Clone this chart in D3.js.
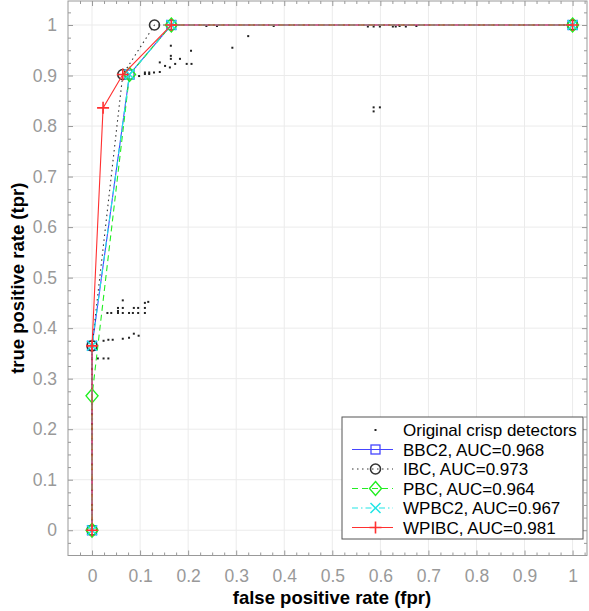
<!DOCTYPE html>
<html>
<head>
<meta charset="utf-8">
<script src="https://cdn.jsdelivr.net/npm/d3@7"></script>
<style>
  body { margin: 0; background: #fff; }
  svg { font-family: "Liberation Sans", Arial, sans-serif; }
</style>
</head>
<body>
<svg id="chart" width="589" height="611"></svg>
<script>
// ROC points per method
var bbc2Fpr  = [0, 0, 0.078, 0.165, 1];
var bbc2Tpr  = [0, 0.365, 0.902, 1, 1];
var ibcFpr   = [0, 0, 0.064, 0.13, 1];
var ibcTpr   = [0, 0.365, 0.902, 1, 1];
var pbcFpr   = [0, 0, 0.078, 0.165, 1];
var pbcTpr   = [0, 0.266, 0.902, 1, 1];
var wpbc2Fpr = [0, 0, 0.078, 0.165, 1];
var wpbc2Tpr = [0, 0.365, 0.902, 1, 1];
var wpibcFpr = [0, 0, 0.023, 0.064, 0.165, 1];
var wpibcTpr = [0, 0.365, 0.836, 0.902, 1, 1];

// original crisp detectors (scatter)
var crispFpr = [0,0,0,0,0,0,0,0,0,0,0,0,0,0,0,0,0,0,0,0,
  0.012,0.024,0.034, 0.024,0.034,0.043,0.064,0.077,0.087,0.097,
  0.032,0.040,0.054,0.054,0.054,0.064,0.064,0.064,0.077,0.085,0.087,0.096,0.096,0.110,0.110,0.110,0.117,
  0.098,0.110,0.119,0.129,0.141,0.152,0.162,0.173,0.183,0.197,0.207,0.141,0.164,0.164,0.164,0.206,0.119,0.110,
  0.238,0.260,0.292,0.325,0.378,0.574,0.586,0.599,0.626,0.632,0.640,0.653,0.675,0.586,0.599,0.586];
var crispTpr = [0.02,0.04,0.05,0.08,0.10,0.13,0.15,0.17,0.18,0.19,0.20,0.21,0.22,0.23,0.25,0.28,0.30,0.32,0.34,0.355,
  0.340,0.340,0.340, 0.375,0.377,0.377,0.379,0.381,0.389,0.385,
  0.430,0.430,0.440,0.434,0.430,0.455,0.440,0.430,0.430,0.430,0.440,0.440,0.430,0.450,0.440,0.430,0.452,
  0.899,0.903,0.903,0.906,0.907,0.919,0.916,0.923,0.933,0.923,0.923,0.926,0.959,0.939,0.933,0.949,0.906,0.906,
  0.998,0.998,0.955,0.978,0.998,0.997,0.997,0.997,0.997,0.997,0.998,0.997,0.998,0.837,0.837,0.829];

var xTicks = [0,0.1,0.2,0.3,0.4,0.5,0.6,0.7,0.8,0.9,1];
var yTicks = [0,0.1,0.2,0.3,0.4,0.5,0.6,0.7,0.8,0.9,1];
var legendLabels = ["Original crisp detectors", "BBC2, AUC=0.968", "IBC, AUC=0.973",
  "PBC, AUC=0.964", "WPBC2, AUC=0.967", "WPIBC, AUC=0.981"];

var svg = d3.select("#chart");
var MARGINS = {left: 68, right: 2, top: 1, bottom: 55.5};
var WIDTH = 589, HEIGHT = 611;

var xScale = d3.scaleLinear().domain([-0.05, 1.03]).range([MARGINS.left, WIDTH - MARGINS.right]);
var yScale = d3.scaleLinear().domain([-0.05, 1.0475]).range([HEIGHT - MARGINS.bottom, MARGINS.top]);

var x0 = xScale.range()[0], x1 = xScale.range()[1];
var y0 = yScale.range()[0], y1 = yScale.range()[1];

// grid
var grid = svg.append("g");
xTicks.forEach(function(t){
  grid.append("line").attr("x1", xScale(t)).attr("x2", xScale(t)).attr("y1", y0).attr("y2", y1)
    .attr("stroke", "#ebebeb").attr("stroke-width", 1);
});
yTicks.forEach(function(t){
  grid.append("line").attr("y1", yScale(t)).attr("y2", yScale(t)).attr("x1", x0).attr("x2", x1)
    .attr("stroke", "#ebebeb").attr("stroke-width", 1);
});

// axes with inward ticks on all sides
var minorX = d3.range(-0.025, 1.03, 0.025).filter(function(v){ return Math.abs(Math.round(v*10) - v*10) > 0.01; });
var minorY = d3.range(-0.025, 1.048, 0.025).filter(function(v){ return Math.abs(Math.round(v*10) - v*10) > 0.01; });

function styleAxis(g){
  g.select(".domain").remove();
  g.selectAll(".tick line").attr("stroke", "#999");
}
svg.append("g").attr("transform", "translate(0," + y0 + ")")
  .call(d3.axisBottom(xScale).tickValues(xTicks).tickSizeInner(-5).tickSizeOuter(0).tickPadding(14).tickFormat(d3.format("")))
  .call(styleAxis)
  .selectAll("text").attr("fill", "#999").style("font-size", "17.5px");
svg.append("g").attr("transform", "translate(0," + y0 + ")")
  .call(d3.axisBottom(xScale).tickValues(minorX).tickSize(-3).tickFormat(""))
  .call(styleAxis);
svg.append("g").attr("transform", "translate(0," + y1 + ")")
  .call(d3.axisTop(xScale).tickValues(xTicks).tickSize(-5).tickFormat(""))
  .call(styleAxis);
svg.append("g").attr("transform", "translate(0," + y1 + ")")
  .call(d3.axisTop(xScale).tickValues(minorX).tickSize(-3).tickFormat(""))
  .call(styleAxis);
svg.append("g").attr("transform", "translate(" + x0 + ",0)")
  .call(d3.axisLeft(yScale).tickValues(yTicks).tickSizeInner(-5).tickSizeOuter(0).tickPadding(11).tickFormat(d3.format("")))
  .call(styleAxis)
  .selectAll("text").attr("fill", "#999").style("font-size", "17.5px");
svg.append("g").attr("transform", "translate(" + x0 + ",0)")
  .call(d3.axisLeft(yScale).tickValues(minorY).tickSize(-3).tickFormat(""))
  .call(styleAxis);
svg.append("g").attr("transform", "translate(" + x1 + ",0)")
  .call(d3.axisRight(yScale).tickValues(yTicks).tickSize(-5).tickFormat(""))
  .call(styleAxis);
svg.append("g").attr("transform", "translate(" + x1 + ",0)")
  .call(d3.axisRight(yScale).tickValues(minorY).tickSize(-3).tickFormat(""))
  .call(styleAxis);

// frame
svg.append("rect").attr("x", x0).attr("y", y1).attr("width", x1 - x0).attr("height", y0 - y1)
  .attr("fill", "none").attr("stroke", "#999").attr("stroke-width", 1);

// crisp detector dots
svg.append("g").selectAll("rect").data(crispFpr).enter().append("rect")
  .attr("x", function(d){ return xScale(d) - 1; })
  .attr("y", function(d, i){ return yScale(crispTpr[i]) - 1; })
  .attr("width", 2).attr("height", 2).attr("fill", "#222");

// series
var series = [
  {fpr: bbc2Fpr, tpr: bbc2Tpr, color: "#4545ff", dash: null, marker: "square"},
  {fpr: ibcFpr, tpr: ibcTpr, color: "#333", dash: "1.5,3.5", marker: "circle"},
  {fpr: pbcFpr, tpr: pbcTpr, color: "#22ee22", dash: "6,4", marker: "diamond"},
  {fpr: wpbc2Fpr, tpr: wpbc2Tpr, color: "#22e5e5", dash: "6,3,1.5,3", marker: "x"},
  {fpr: wpibcFpr, tpr: wpibcTpr, color: "#ff3030", dash: null, marker: "plus"}
];

function drawMarker(g, type, cx, cy, color){
  if (type === "square") {
    g.append("rect").attr("x", cx - 4.5).attr("y", cy - 4.5).attr("width", 9).attr("height", 9)
      .attr("fill", "none").attr("stroke", color).attr("stroke-width", 1.3);
  } else if (type === "circle") {
    g.append("circle").attr("cx", cx).attr("cy", cy).attr("r", 5)
      .attr("fill", "none").attr("stroke", color).attr("stroke-width", 1.6);
  } else if (type === "diamond") {
    g.append("path").attr("d", "M" + cx + "," + (cy - 7) + "L" + (cx + 6) + "," + cy + "L" + cx + "," + (cy + 7) + "L" + (cx - 6) + "," + cy + "Z")
      .attr("fill", "none").attr("stroke", color).attr("stroke-width", 1.4);
  } else if (type === "x") {
    g.append("path").attr("d", "M" + (cx - 5) + "," + (cy - 5) + "L" + (cx + 5) + "," + (cy + 5) + "M" + (cx + 5) + "," + (cy - 5) + "L" + (cx - 5) + "," + (cy + 5))
      .attr("stroke", color).attr("stroke-width", 1.5);
  } else if (type === "plus") {
    g.append("path").attr("d", "M" + (cx - 6) + "," + cy + "L" + (cx + 6) + "," + cy + "M" + cx + "," + (cy - 6) + "L" + cx + "," + (cy + 6))
      .attr("stroke", color).attr("stroke-width", 1.6);
  }
}

var lineGen = d3.line();
series.forEach(function(s){
  var g = svg.append("g");
  var pts = s.fpr.map(function(f, i){ return [xScale(f), yScale(s.tpr[i])]; });
  g.append("path").attr("d", lineGen(pts)).attr("fill", "none")
    .attr("stroke", s.color).attr("stroke-width", 1.1)
    .attr("stroke-dasharray", s.dash);
  pts.forEach(function(p){ drawMarker(g, s.marker, p[0], p[1], s.color); });
});

// legend
var lg = svg.append("g");
var lgX = 342, lgY = 417, lgW = 241, lgH = 122;
lg.append("rect").attr("x", lgX).attr("y", lgY).attr("width", lgW).attr("height", lgH)
  .attr("fill", "#fff").attr("stroke", "#555").attr("stroke-width", 1);
legendLabels.forEach(function(label, i){
  var cy = lgY + 13 + i * 19.5;
  if (i === 0) {
    lg.append("rect").attr("x", 374.5).attr("y", cy - 1).attr("width", 2).attr("height", 2).attr("fill", "#222");
  } else {
    var s = series[i - 1];
    lg.append("line").attr("x1", 352).attr("x2", 393).attr("y1", cy).attr("y2", cy)
      .attr("stroke", s.color).attr("stroke-width", 1.1).attr("stroke-dasharray", s.dash);
    drawMarker(lg, s.marker, 375.5, cy, s.color);
  }
  lg.append("text").attr("x", 403).attr("y", cy + 6).text(label)
    .style("font-size", "17px").attr("fill", "#000");
});

// axis titles
svg.append("text").attr("text-anchor", "middle")
  .attr("x", 332).attr("y", 604)
  .style("font-size", "18.5px").style("font-weight", "bold")
  .text("false positive rate (fpr)");
svg.append("text").attr("text-anchor", "middle")
  .attr("transform", "translate(24," + ((y0 + y1) / 2) + ") rotate(-90)")
  .style("font-size", "18.5px").style("font-weight", "bold")
  .text("true positive rate (tpr)");
</script>
</body>
</html>
